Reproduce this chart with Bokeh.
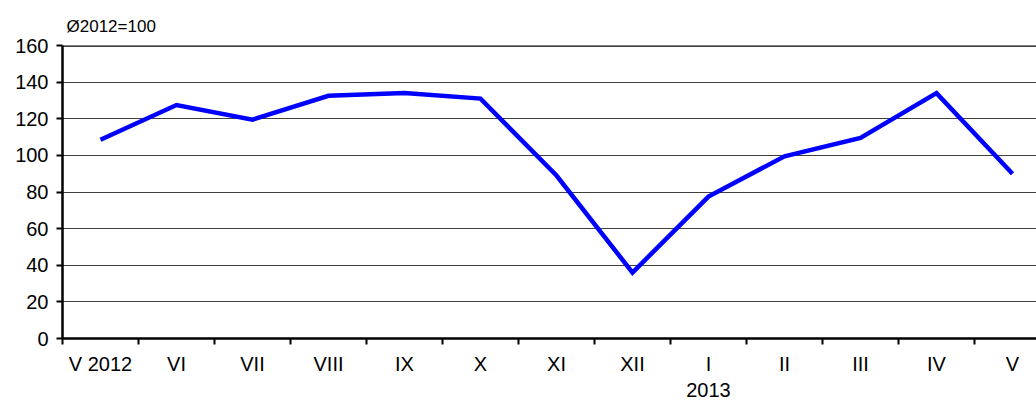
from bokeh.plotting import figure
from bokeh.models import Range1d, FixedTicker, Span, LinearAxis
from bokeh.embed import file_html
from bokeh.resources import INLINE
import numpy as np

months = ["V 2012", "VI", "VII", "VIII", "IX", "X", "XI", "XII", "I", "II", "III", "IV", "V"]
values = [108.5, 127.5, 119.5, 132.5, 134, 131, 89, 36, 77.5, 99.5, 109.5, 134, 90]
y_ticks = [0, 20, 40, 60, 80, 100, 120, 140, 160]
unit_label = "Ø2012=100"
year_label = "2013"
year_index = 8

FONT = "Liberation Sans"
W, H = 1036, 405
LEFT, TOP, BOTTOM = 62, 45, 67
CAT_PX = 76.0

n = len(months)
x = np.arange(n) + 0.5
x_max = (W - LEFT) / CAT_PX

p = figure(width=W, height=H, output_backend="svg", toolbar_location=None,
           x_range=Range1d(0, x_max), y_range=Range1d(0, 160),
           min_border_left=LEFT, min_border_top=TOP, min_border_bottom=BOTTOM,
           min_border_right=0)
p.outline_line_color = None
p.background_fill_color = "white"

p.title.text = unit_label
p.title.text_font = FONT
p.title.text_font_size = "17px"
p.title.text_font_style = "normal"
p.title.text_color = "black"
p.title.align = "left"
p.title.offset = 4
p.title.standoff = 19

p.line(x, values, line_color="#0000ff", line_width=4.5, line_join="miter")

# x axis: labels at category centres, tick marks at boundaries
p.xaxis.ticker = FixedTicker(ticks=list(x), minor_ticks=list(range(n + 1)))
p.xaxis.major_label_overrides = {float(v): m for v, m in zip(x, months)}
p.xaxis.major_tick_out = 0
p.xaxis.major_tick_in = 0
p.xaxis.minor_tick_out = 6
p.xaxis.minor_tick_in = 0
p.xaxis.minor_tick_line_width = 2
p.xaxis.minor_tick_line_color = "black"
p.xaxis.axis_line_width = 2.5
p.xaxis.axis_line_color = "black"
p.xaxis.major_label_standoff = 8
p.xaxis.major_label_text_font = FONT
p.xaxis.major_label_text_font_size = "20px"
p.xaxis.major_label_text_color = "black"

# second row of x labels (year marker)
year_axis = LinearAxis(ticker=FixedTicker(ticks=[float(x[year_index])], minor_ticks=[]),
                       major_label_overrides={float(x[year_index]): year_label},
                       axis_line_color=None, major_tick_line_color=None,
                       major_tick_out=0, major_tick_in=0, minor_tick_out=0, minor_tick_in=0,
                       major_label_standoff=5,
                       major_label_text_font=FONT, major_label_text_font_size="20px",
                       major_label_text_color="black")
p.add_layout(year_axis, "below")

p.yaxis.ticker = FixedTicker(ticks=y_ticks, minor_ticks=[])
p.yaxis.major_tick_out = 6
p.yaxis.major_tick_in = 0
p.yaxis.major_tick_line_width = 2
p.yaxis.major_tick_line_color = "black"
p.yaxis.axis_line_width = 2.5
p.yaxis.axis_line_color = "black"
p.yaxis.major_label_standoff = 8
p.yaxis.major_label_text_font = FONT
p.yaxis.major_label_text_font_size = "20px"
p.yaxis.major_label_text_color = "black"

p.xgrid.visible = False
p.ygrid.ticker = FixedTicker(ticks=y_ticks, minor_ticks=[])
p.ygrid.grid_line_color = "#404040"
p.ygrid.grid_line_width = 1

p.add_layout(Span(location=160, dimension="width", line_color="black", line_width=2.5))

open("out.html", "w").write(file_html(p, INLINE))
